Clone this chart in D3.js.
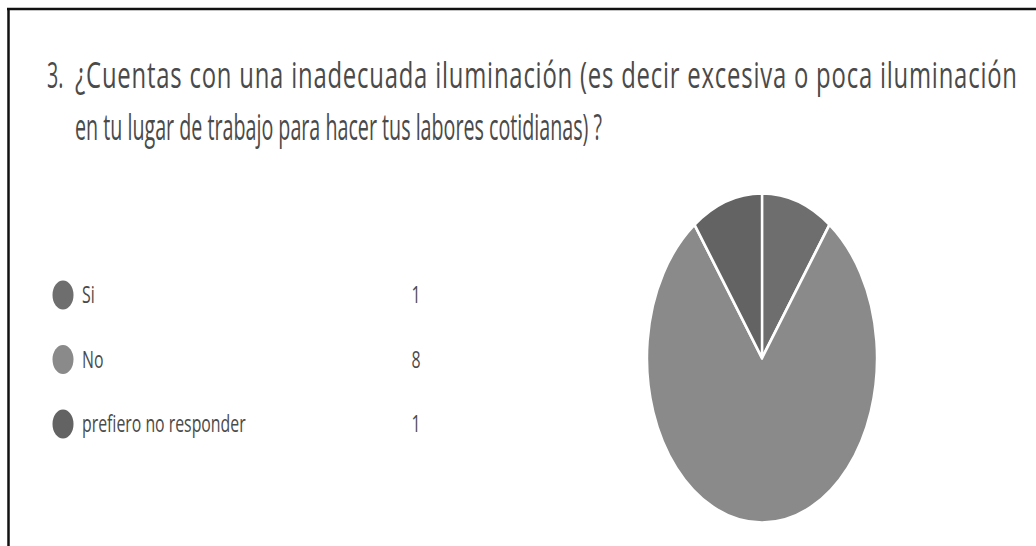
<!DOCTYPE html>
<html><head><meta charset="utf-8">
<script src="https://cdn.jsdelivr.net/npm/d3@7"></script>
<style>html,body{margin:0;padding:0;background:#fff;}</style>
</head><body>
<script>
const categories = ["Si", "No", "prefiero no responder"];
const values = [1, 8, 1];
const colors = ["#6e6e6e", "#8a8a8a", "#636363"];
const titleNumber = "3.";
const titleLines = ["¿Cuentas con una inadecuada iluminación (es decir excesiva o poca iluminación",
                    "en tu lugar de trabajo para hacer tus labores cotidianas) ?"];

const W = 1036, H = 546;
const svg = d3.select("body").append("svg").attr("width", W).attr("height", H)
  .style("display","block");
svg.append("rect").attr("width", W).attr("height", H).attr("fill", "#fff");

// frame (top and left edges)
svg.append("line").attr("x1", 7).attr("x2", W).attr("y1", 9).attr("y2", 9)
  .attr("stroke", "#111").attr("stroke-width", 2.5);
svg.append("line").attr("x1", 8.5).attr("x2", 8.5).attr("y1", 8).attr("y2", H)
  .attr("stroke", "#111").attr("stroke-width", 2.5);

const font = "'Open Sans', 'Noto Sans', sans-serif";
const textColor = "#4a4a4a";
const titleSize = 36;
const titleSpans = [[75, 88, 942], [75, 140, 527]];

// measure natural widths to pick glyph squeezes
const titleTexts = titleLines.map((t, i) => svg.append("text")
  .attr("font-family", font).attr("font-size", titleSize).attr("fill", textColor).text(t));
const natural = titleTexts.map(n => n.node().getComputedTextLength());
const base = titleSpans[1][2] / natural[1];

svg.append("text").attr("transform", `translate(47,88) scale(${base},1)`).text(titleNumber)
  .attr("font-family", font).attr("font-size", titleSize).attr("fill", textColor);
titleTexts.forEach((n, i) => {
  const full = titleSpans[i][2] / natural[i];
  const g = 0.72 * full + 0.28 * base;
  n.attr("transform", `translate(${titleSpans[i][0]},${titleSpans[i][1]}) scale(${g},1)`)
   .attr("textLength", titleSpans[i][2] / g).attr("lengthAdjust", "spacing");
});

// legend
const legendY = d3.scalePoint().domain(categories).range([295, 424]);
const sx = 0.697;
const lsx = 0.66;
const leg = svg.append("g");
categories.forEach((c, i) => {
  const y = legendY(c);
  leg.append("ellipse").attr("cx", 63).attr("cy", y).attr("rx", 10.5).attr("ry", 14.5)
    .attr("fill", colors[i]);
  leg.append("text").attr("transform", `translate(82,${y + 8}) scale(${lsx},1)`)
    .text(c).attr("font-family", font).attr("font-size", 24).attr("fill", textColor);
  leg.append("text").attr("transform", `translate(416,${y + 8}) scale(${lsx},1)`)
    .attr("text-anchor", "middle")
    .text(values[i]).attr("font-family", font).attr("font-size", 24).attr("fill", textColor);
});

// pie
const R = 165;
const pie = d3.pie().sort(null).value(d => d)(values);
const arc = d3.arc().innerRadius(0).outerRadius(R);
const pg = svg.append("g").attr("transform", `translate(762,358) scale(${sx},1)`);
pg.selectAll("path").data(pie).join("path")
  .attr("d", arc)
  .attr("fill", (d, i) => colors[i])
  .attr("stroke", "#fff").attr("stroke-width", 3.5).attr("stroke-linejoin", "round");
</script>
</body></html>
